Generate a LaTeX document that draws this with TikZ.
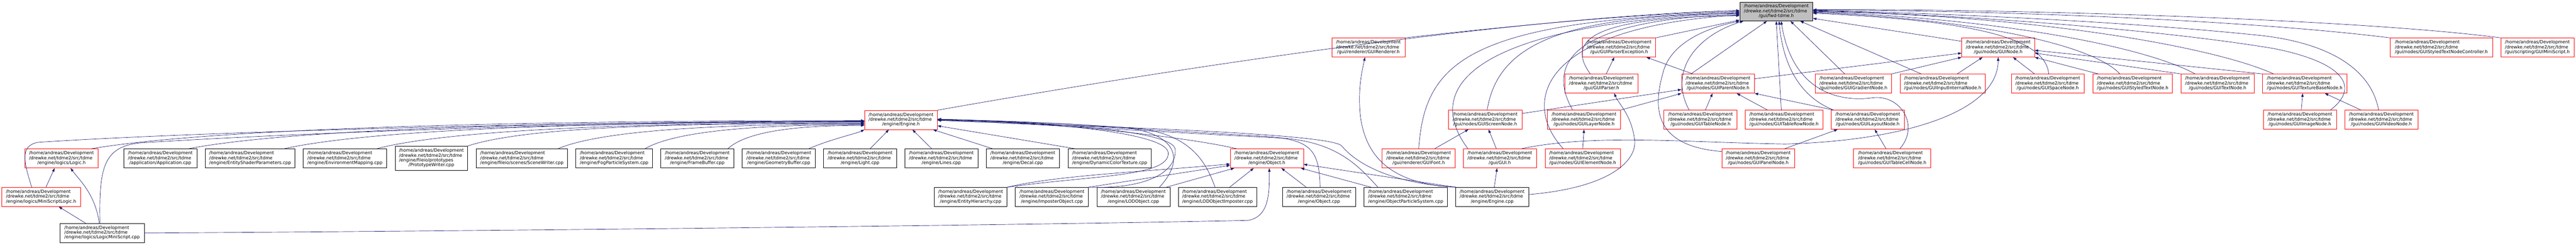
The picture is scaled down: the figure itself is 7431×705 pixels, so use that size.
\documentclass[tikz,border=0pt]{standalone}
\usepackage{fontspec}
\setmainfont{DejaVu Sans}
\usetikzlibrary{arrows.meta}
\definecolor{edgeblue}{HTML}{191970}
\definecolor{rootgray}{HTML}{BFBFBF}
\newcommand\fpath[1]{\begin{tabular}{@{}l@{}}/home/andreas/Development\\/drewke.net/tdme2/src/tdme\\\multicolumn{1}{@{}c@{}}{#1}\end{tabular}}
\newcommand\fpathx[2]{\begin{tabular}{@{}l@{}}/home/andreas/Development\\/drewke.net/tdme2/src/tdme\\#1\\\multicolumn{1}{@{}c@{}}{#2}\end{tabular}}
\tikzset{
  filebox/.style={draw=black, fill=white, line width=1.1pt, inner sep=0pt, minimum height=55pt, font=\fontsize{12.8}{13.4}\selectfont},
  truncbox/.style={filebox, draw=red},
  rootbox/.style={filebox, fill=rootgray, line width=1.6pt},
  incl/.style={edgeblue, line width=1pt, -{Triangle[length=10pt,width=7pt]}},
}
\begin{document}
\begin{tikzpicture}[x=1pt,y=-1pt]
  \useasboundingbox (0,0) rectangle (7431,705);
  \node[rootbox, minimum width=210pt, minimum height=54pt] (fwd) at (5124,33) {\fpath{/gui/fwd-tdme.h}};
  \foreach \n/\x/\y/\w/\t in {
    guirenderer/3947.5/137/211/{/gui/renderer/GUIRenderer.h},
    parserexc/4670.5/137/211/{/gui/GUIParserException.h},
    guinode/5764/137/210/{/gui/nodes/GUINode.h},
    styledctrl/7042.5/137/295/{/gui/nodes/GUIStyledTextNodeController.h},
    miniscript/7319.5/137/211/{/gui/scripting/GUIMiniScript.h},
    guiparser/4619.5/241/211/{/gui/GUIParser.h},
    parentnode/4956/241/210/{/gui/nodes/GUIParentNode.h},
    gradient/5346.5/241/219/{/gui/nodes/GUIGradientNode.h},
    inputinternal/5604/241/246/{/gui/nodes/GUIInputInternalNode.h},
    space/5907/241/210/{/gui/nodes/GUISpaceNode.h},
    styledtext/6152/241/230/{/gui/nodes/GUIStyledTextNode.h},
    textnode/6397/241/210/{/gui/nodes/GUITextNode.h},
    texturebase/6648.5/241/243/{/gui/nodes/GUITextureBaseNode.h},
    engineh/2599/345.5/210/{/engine/Engine.h},
    screennode/4284/345/212/{/gui/nodes/GUIScreenNode.h},
    layernode/4569.5/345/211/{/gui/nodes/GUILayerNode.h},
    tablenode/4905.5/345/211/{/gui/nodes/GUITableNode.h},
    tablerow/5146.5/345/225/{/gui/nodes/GUITableRowNode.h},
    layout/5388/345/210/{/gui/nodes/GUILayoutNode.h},
    image/6634.5/345/211/{/gui/nodes/GUIImageNode.h},
    video/6869.5/345/211/{/gui/nodes/GUIVideoNode.h},
    logic/177.5/456.5/211/{/engine/logics/Logic.h},
    objecth/3654.5/456.5/211/{/engine/Object.h},
    guifont/4092.5/456.5/211/{/gui/renderer/GUIFont.h},
    guih/4326.5/456.5/211/{/gui/GUI.h},
    element/4565.5/456.5/217/{/gui/nodes/GUIElementNode.h},
    panel/5072/456.5/210/{/gui/nodes/GUIPanelNode.h},
    tablecell/5458.5/456.5/223/{/gui/nodes/GUITableCellNode.h},
    msl/118.5/567.5/227/{/engine/logics/MiniScriptLogic.h}}
    \node[truncbox, minimum width=\w pt] (\n) at (\x,\y) {\fpath{\t}};
  \foreach \n/\x/\y/\w/\t in {
    application/462.5/456.5/211/{/application/Application.cpp},
    entityshader/721.5/456.5/259/{/engine/EntityShaderParameters.cpp},
    envmapping/995/456.5/240/{/engine/EnvironmentMapping.cpp},
    scenewriter/1505.5/456.5/263/{/engine/fileio/scenes/SceneWriter.cpp},
    fogps/1771.5/456.5/221/{/engine/FogParticleSystem.cpp},
    framebuffer/2011.5/456.5/211/{/engine/FrameBuffer.cpp},
    geombuffer/2246.5/456.5/211/{/engine/GeometryBuffer.cpp},
    light/2481/456.5/210/{/engine/Light.cpp},
    lines/2715.5/456.5/211/{/engine/Lines.cpp},
    decal/2950.5/456.5/211/{/engine/Decal.cpp},
    dyncolor/3201/456.5/240/{/engine/DynamicColorTexture.cpp},
    hierarchy/2800/567.5/210/{/engine/EntityHierarchy.cpp},
    imposter/3034.5/567.5/211/{/engine/ImposterObject.cpp},
    lodobj/3269.5/567.5/211/{/engine/LODObject.cpp},
    lodimp/3512/567.5/226/{/engine/LODObjectImposter.cpp},
    objectcpp/3805/567.5/210/{/engine/Object.cpp},
    objps/4055/567.5/240/{/engine/ObjectParticleSystem.cpp},
    enginecpp/4304.5/567.5/211/{/engine/Engine.cpp},
    lms/294.5/671.5/243/{/engine/logics/LogicMiniScript.cpp}}
    \node[filebox, minimum width=\w pt] (\n) at (\x,\y) {\fpath{\t}};
  \node[filebox, minimum width=209pt, minimum height=70pt] (protowriter) at (1244.5,456) {\fpathx{/engine/fileio/prototypes}{/PrototypeWriter.cpp}};
  % into fwd-tdme.h
  \draw[incl] (engineh.north east) .. controls (3200,230) and (4300,50) .. ([yshift=3pt]fwd.west);
  \draw[incl] (guirenderer.north east) .. controls (4400,70) and (4750,38) .. (fwd.west);
  \draw[incl] (guifont.north) .. controls (4110,180) and (4230,60) .. ([yshift=-2pt]fwd.west);
  \draw[incl] ([xshift=-92pt]guih.north) .. controls (4100,250) and (4250,70) .. ([yshift=-4pt]fwd.west);
  \draw[incl] ([xshift=6pt]screennode.north) .. controls (4320,130) and (4500,45) .. ([yshift=-6pt]fwd.west);
  \draw[incl] ([xshift=-33pt]layernode.north) .. controls (4470,200) and (4500,60) .. ([yshift=-8pt]fwd.west);
  \draw[incl] ([xshift=-56pt]element.north) .. controls (4390,300) and (4430,80) .. ([yshift=-10pt]fwd.west);
  \draw[incl] ([xshift=-32pt]guiparser.north) .. controls (4520,120) and (4580,50) .. ([yshift=-12pt]fwd.west);
  \draw[incl] (parserexc.north east) -- ([yshift=3pt]fwd.south west);
  \draw[incl] ([xshift=-33pt]tablenode.north) .. controls (4810,200) and (4900,100) .. ([xshift=11pt]fwd.south west);
  \draw[incl] ([yshift=20pt]panel.west) .. controls (4760,420) and (4770,300) .. (4800,200) .. controls (4830,110) and (4950,75) .. (fwd.south west);
  \draw[incl] ([xshift=-78pt]parentnode.north) -- ([xshift=-27pt]fwd.south);
  \draw[incl] ([xshift=-8pt]tablerow.north) -- (fwd.south);
  \draw[incl] ([xshift=-99pt]layout.north) .. controls (5170,270) and (5140,150) .. ([xshift=8pt]fwd.south);
  \draw[incl] ([xshift=22pt]tablecell.north) .. controls (5540,360) and (5480,270) .. (5400,282) .. controls (5300,295) and (5170,260) .. ([xshift=14pt]fwd.south);
  \draw[incl] ([xshift=-25pt]gradient.north) -- ([xshift=41pt]fwd.south);
  \draw[incl] ([xshift=-62pt]inputinternal.north) -- ([xshift=69pt]fwd.south);
  \draw[incl] ([yshift=-10pt]guinode.north west) -- ([yshift=-20pt]fwd.east);
  \draw[incl] ([xshift=3pt]space.north) .. controls (5900,110) and (5700,60) .. ([yshift=-5pt]fwd.east);
  \draw[incl] ([xshift=-37pt]styledtext.north) .. controls (6040,130) and (5700,55) .. ([yshift=-3pt]fwd.east);
  \draw[incl] ([xshift=-65pt]textnode.north) .. controls (6200,140) and (5800,55) .. ([yshift=-1pt]fwd.east);
  \draw[incl] ([xshift=-90pt]texturebase.north) .. controls (6400,140) and (5900,45) .. (fwd.east);
  \draw[incl] ([xshift=88pt]image.north) .. controls (6810,250) and (6760,180) .. (6560,140) .. controls (6200,80) and (5600,40) .. ([yshift=2pt]fwd.east);
  \draw[incl] ([xshift=-8pt]video.north) .. controls (6840,200) and (6720,120) .. (6500,100) .. controls (6100,60) and (5600,38) .. ([yshift=3pt]fwd.east);
  \draw[incl] (styledctrl.north west) .. controls (6500,60) and (5800,30) .. ([yshift=4pt]fwd.east);
  \draw[incl] (miniscript.north west) .. controls (6800,55) and (5800,25) .. ([yshift=5pt]fwd.east);
  % gui headers
  \draw[incl] ([yshift=-14pt]parentnode.north east) -- ([yshift=-16pt]guinode.west);
  \draw[incl] (gradient.north east) -- (guinode.south west);
  \draw[incl] ([xshift=42pt]inputinternal.north) -- ([xshift=-45pt]guinode.south);
  \draw[incl] ([xshift=-38pt]space.north) -- ([xshift=43pt]guinode.south);
  \draw[incl] ([xshift=-99pt]styledtext.north) -- (guinode.south east);
  \draw[incl] (textnode.north west) -- ([yshift=-16pt]guinode.east);
  \draw[incl] (texturebase.north west) -- ([yshift=-8pt]guinode.east);
  \draw[incl] ([xshift=62pt]guih.north) .. controls (4600,385) and (4850,410) .. (5150,415) .. controls (5500,405) and (5764,320) .. (guinode.south);
  \draw[incl] ([xshift=14pt]guiparser.north) -- ([xshift=-14pt]parserexc.south);
  \draw[incl] ([xshift=-73pt]parentnode.north) -- ([xshift=79pt]parserexc.south);
  \draw[incl] ([yshift=18pt]screennode.east) -- ([yshift=-17pt]parentnode.west);
  \draw[incl] (layernode.north east) -- (parentnode.south west);
  \draw[incl] ([xshift=14pt]tablenode.north) -- ([xshift=-16pt]parentnode.south);
  \draw[incl] ([xshift=-48pt]tablerow.north) -- ([xshift=54pt]parentnode.south);
  \draw[incl] ([xshift=6pt]layout.north west) -- (parentnode.south east);
  \draw[incl] ([xshift=76pt]panel.north) -- ([xshift=-87pt]layout.south);
  \draw[incl] ([xshift=-18pt]tablecell.north) -- ([xshift=20pt]layout.south);
  \draw[incl] ([xshift=46pt]guifont.north) -- ([xshift=-48pt]screennode.south);
  \draw[incl] ([xshift=-10pt]guih.north) -- ([xshift=10pt]screennode.south);
  \draw[incl] (element.north) -- (layernode.south);
  \draw[incl] ([xshift=4pt]image.north) -- ([xshift=-6pt]texturebase.south);
  \draw[incl] ([xshift=-59pt]video.north) -- ([xshift=58pt]texturebase.south);
  % engine sources
  \draw[incl] ([xshift=6pt]enginecpp.north) -- ([xshift=-8pt]guih.south);
  \draw[incl] ([yshift=7pt]enginecpp.east) .. controls (4650,540) and (4725,460) .. (4715,400) .. controls (4705,330) and (4670,300) .. ([xshift=37pt]guiparser.south);
  \draw[incl] (enginecpp.north west) .. controls (4000,530) and (3940,440) .. (3925,340) .. controls (3915,260) and (3930,200) .. ([xshift=-10pt]guirenderer.south);
  \draw[incl] (enginecpp.north west) -- ([yshift=-17pt]objecth.east);
  \draw[incl] ([xshift=4pt]enginecpp.north west) .. controls (4030,530) and (3920,480) .. (3870,420) .. controls (3830,380) and (3000,360) .. ([yshift=-1pt]engineh.east);
  \draw[incl] ([xshift=-100pt]objps.north) -- ([xshift=-8pt]objecth.south east);
  \draw[incl] ([xshift=-80pt]objps.north) .. controls (3920,480) and (3860,410) .. (3700,398) .. controls (3300,378) and (2900,352) .. ([yshift=-1pt]engineh.east);
  \draw[incl] ([xshift=-37pt]objectcpp.north) -- ([xshift=42pt]objecth.south);
  \draw[incl] ([xshift=3pt]objectcpp.north) .. controls (3806,430) and (3780,402) .. (3650,393) .. controls (3300,372) and (2900,350) .. (engineh.east);
  \draw[incl] ([xshift=-87pt]objecth.north) .. controls (3400,390) and (3000,350) .. ([yshift=1pt]engineh.east);
  \draw[incl] (hierarchy.north east) .. controls (3050,505) and (3300,495) .. ([yshift=-16pt]objecth.west);
  \draw[incl] (hierarchy.north east) .. controls (3150,505) and (3375,510) .. (3370,440) .. controls (3365,380) and (3000,350) .. ([yshift=2pt]engineh.east);
  \draw[incl] (imposter.north east) -- ([yshift=-20pt]objecth.west);
  \draw[incl] (imposter.north east) .. controls (3300,545) and (3395,500) .. (3390,430) .. controls (3385,375) and (3000,350) .. ([yshift=2pt]engineh.east);
  \draw[incl] ([xshift=95pt]lodobj.north) -- ([xshift=-94pt]objecth.south);
  \draw[incl] ([xshift=75pt]lodobj.north) .. controls (3410,470) and (3410,390) .. (3250,368) .. controls (3000,350) and (2800,346) .. ([yshift=1pt]engineh.east);
  \draw[incl] ([xshift=35pt]lodimp.north) -- ([xshift=-38pt]objecth.south);
  \draw[incl] ([xshift=-7pt]lodimp.north) .. controls (3480,470) and (3440,395) .. (3300,372) .. controls (3050,352) and (2800,346) .. ([yshift=1pt]engineh.east);
  \draw[incl] ([xshift=21pt]dyncolor.north west) -- ([yshift=-17pt]engineh.east);
  \draw[incl] ([xshift=19pt]decal.north west) -- ([xshift=-13pt]engineh.south east);
  \draw[incl] ([xshift=-28pt]lines.north) -- ([xshift=33pt]engineh.south);
  \draw[incl] ([xshift=29pt]light.north) -- ([xshift=-35pt]engineh.south);
  \draw[incl] ([xshift=-20pt]geombuffer.north east) .. controls (2400,400) and (2470,385) .. (engineh.south west);
  \foreach \n/\s/\d/\a/\b in {logic/20/2/330/1100, application/25/5/290/950,
    entityshader/32/6/250/800, envmapping/29/8/210/650, protowriter/0/10/170/550,
    scenewriter/28/12/130/400, fogps/22/14/95/280, framebuffer/18/16/60/170}
    \draw[incl] ([xshift=-\s pt]\n.north east) .. controls +(\a,-55) and +(-\b,0) .. ([yshift=-\d pt]engineh.west);
  % logics
  \draw[incl] ([xshift=-27pt]msl.north) .. controls (70,470) and (55,420) .. (110,410) .. controls (600,378) and (1700,350) .. ([yshift=-3pt]engineh.west);
  \draw[incl] ([xshift=-6pt]lms.north) .. controls (285,480) and (300,425) .. (400,412) .. controls (900,380) and (1800,350) .. ([yshift=-4pt]engineh.west);
  \draw[incl] ([xshift=14pt]msl.north) -- ([xshift=-20pt]logic.south);
  \draw[incl] ([xshift=-8pt]lms.north) .. controls (275,560) and (230,520) .. ([xshift=26pt]logic.south);
  \draw[incl] ([xshift=-47pt]lms.north) -- ([xshift=51pt]msl.south);
  \draw[incl] (lms.east) .. controls (1500,665) and (3000,648) .. (3600,635) .. controls (3660,625) and (3662,560) .. ([xshift=7pt]objecth.south);
\end{tikzpicture}
\end{document}
